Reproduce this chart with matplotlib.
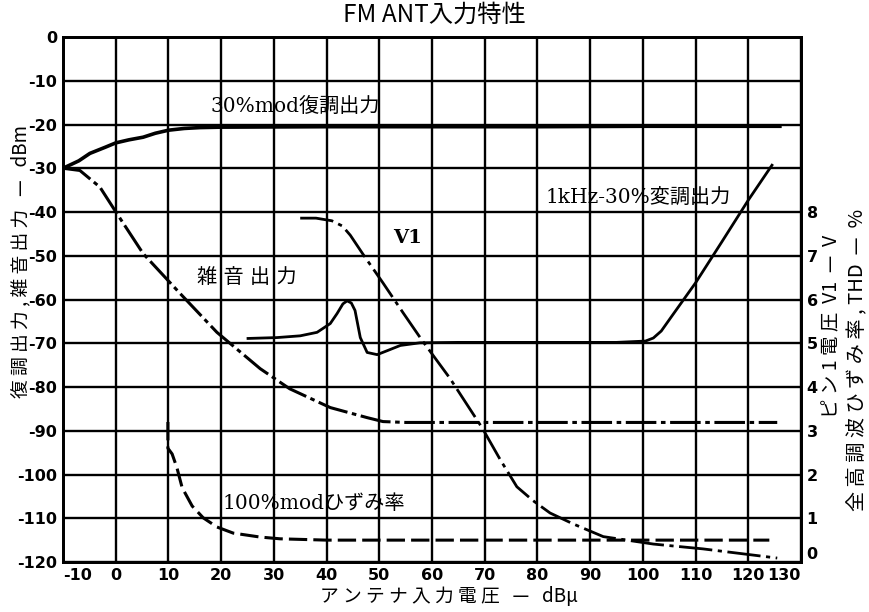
import matplotlib
matplotlib.use("Agg")
import matplotlib.pyplot as plt

plt.rcParams['axes.unicode_minus'] = False

JP = ['Noto Sans CJK JP', 'DejaVu Sans']
MIX = ['DejaVu Serif', 'Noto Sans CJK JP']

# 30%mod demodulated output (dBm)
demod_x = [-10, -7, -4.9, -2, 0, 2.5, 5.2, 7.5, 10, 13, 16, 20, 40, 60, 80, 100, 120, 126]
demod_y = [-30, -28.3, -26.6, -25.2, -24.2, -23.5, -22.9, -22.0, -21.3, -20.9, -20.7, -20.6,
           -20.5, -20.5, -20.5, -20.4, -20.4, -20.4]

# noise output (dBm)
noise_x = [-10, -6.8, -3, 0.2, 5.2, 12.2, 19.2, 27.4, 33, 40.7, 47.7, 50.7, 55, 70, 90, 110, 125.5]
noise_y = [-30, -30.5, -34.3, -40.3, -49.5, -58.6, -67.5, -75.8, -80.4, -84.7, -87, -87.9,
           -88.1, -88.1, -88.1, -88.1, -88.1]

# 1kHz-30% modulated output (dBm)
out1k_x = [25.1, 30.6, 35, 38.2, 40.7, 42, 43.1, 43.9, 44.7, 45.4, 46.4, 47.7, 49.6, 51.5, 54,
           57.7, 65, 80, 95, 100.5, 102, 103.5, 105.5, 110, 115, 120, 124.5]
out1k_y = [-68.9, -68.7, -68.3, -67.5, -65.5, -63.2, -61, -60.3, -60.8, -62.5, -68.7, -72.1,
           -72.6, -71.7, -70.5, -69.9, -69.8, -69.8, -69.8, -69.5, -68.8, -67.2, -63.8, -56.2,
           -46.8, -37.3, -29.3]

# pin1 voltage V1 (V, right axis)
v1_x = [35, 38, 41, 43, 44.5, 47, 50.7, 54.5, 58.1, 63.4, 69.5, 72.9, 76.1, 79.2, 82.4, 86.8,
        92.5, 102, 111.4, 125.5]
v1_y = [7.86, 7.86, 7.8, 7.68, 7.47, 7.02, 6.38, 5.7, 5.07, 4.2, 3.07, 2.35, 1.72, 1.4, 1.12,
        0.87, 0.58, 0.41, 0.3, 0.09]

# 100%mod distortion (%, right axis)
thd_x = [9.9, 9.9, 10.7, 11.6, 12.6, 14.5, 16.6, 19.2, 22.3, 27.4, 31.2, 40, 60, 80, 100, 124]
thd_y = [3.2, 2.6, 2.47, 2.16, 1.7, 1.28, 1.01, 0.8, 0.66, 0.57, 0.53, 0.5, 0.5, 0.5, 0.5, 0.5]

x_ticks = list(range(-10, 131, 10))
y_ticks = list(range(-120, 1, 10))
r_ticks = list(range(0, 9))

fig = plt.figure(figsize=(8.69, 6.12), dpi=100)
ax = fig.add_axes([0.0725, 0.0817, 0.8492, 0.8578])

ax.set_xlim(-10, 130)
ax.set_ylim(-120, 0)
ax.set_xticks(x_ticks)
ax.set_yticks(y_ticks)
ax.set_xticklabels([str(v) for v in x_ticks])
ax.set_yticklabels([str(v) for v in y_ticks])
ax.grid(True, color='black', linewidth=1.7)
ax.set_axisbelow(True)
for s in ax.spines.values():
    s.set_linewidth(2.0)
ax.tick_params(length=0, pad=4, labelsize=11.5)
for lab in ax.get_xticklabels() + ax.get_yticklabels():
    lab.set_fontweight('bold')
xl = ax.get_xticklabels()
xl[0].set_horizontalalignment('left')
xl[-1].set_horizontalalignment('right')

ax.plot(demod_x, demod_y, color='black', linewidth=2.6)
ax.plot(noise_x, noise_y, color='black', linewidth=2.2, linestyle=(0, (10, 1.5, 1.5, 1.5)))
ax.plot(out1k_x, out1k_y, color='black', linewidth=2.0)

ax2 = ax.twinx()
ax2.set_ylim(0, 12)
ax2.set_yticks(r_ticks)
ax2.set_yticklabels([str(v) for v in r_ticks])
ax2.tick_params(length=0, pad=4, labelsize=11.5)
for lab in ax2.get_yticklabels():
    lab.set_fontweight('bold')
ax2.get_yticklabels()[0].set_verticalalignment('bottom')
for s in ax2.spines.values():
    s.set_linewidth(2.0)

ax2.plot(v1_x, v1_y, color='black', linewidth=2.0, linestyle=(0, (12, 2, 1.5, 2)))
ax2.plot(thd_x, thd_y, color='black', linewidth=2.2, linestyle=(0, (6, 2)))

# curve labels
ax.text(17.9, -15.8, '30%mod復調出力', family=MIX, fontsize=14.5, va='center', ha='left')
ax.text(81.5, -36.6, '1kHz-30%変調出力', family=MIX, fontsize=14.5, va='center', ha='left')
ax.text(52.6, -46, 'V1', family=MIX, fontsize=14, va='center', ha='left', fontweight='bold')
ax.text(15.4, -55, '雑 音 出 力', family=MIX, fontsize=14.5, va='center', ha='left')
ax.text(20.2, -106.7, '100%modひずみ率', family=MIX, fontsize=14.5, va='center', ha='left')

fig.text(0.5, 0.976, 'FM ANT入力特性', family=JP, fontsize=17.5, ha='center', va='center')
fig.text(0.024, 0.572, '復 調 出 力 , 雑 音 出 力   —   dBm', family=JP, fontsize=13.5,
         rotation=90, ha='center', va='center')
fig.text(0.957, 0.466, 'ピ ン 1 電 圧  V1  —  V', family=JP, fontsize=14,
         rotation=90, ha='center', va='center')
fig.text(0.987, 0.412, '全 高 調 波 ひ ず み 率 , THD  —  %', family=JP, fontsize=14.5,
         rotation=90, ha='center', va='center')
fig.text(0.517, 0.026, 'ア ン テ ナ 入 力 電 圧   —   dBμ', family=JP, fontsize=13.5,
         ha='center', va='center')

fig.savefig('out.png', dpi=100)
